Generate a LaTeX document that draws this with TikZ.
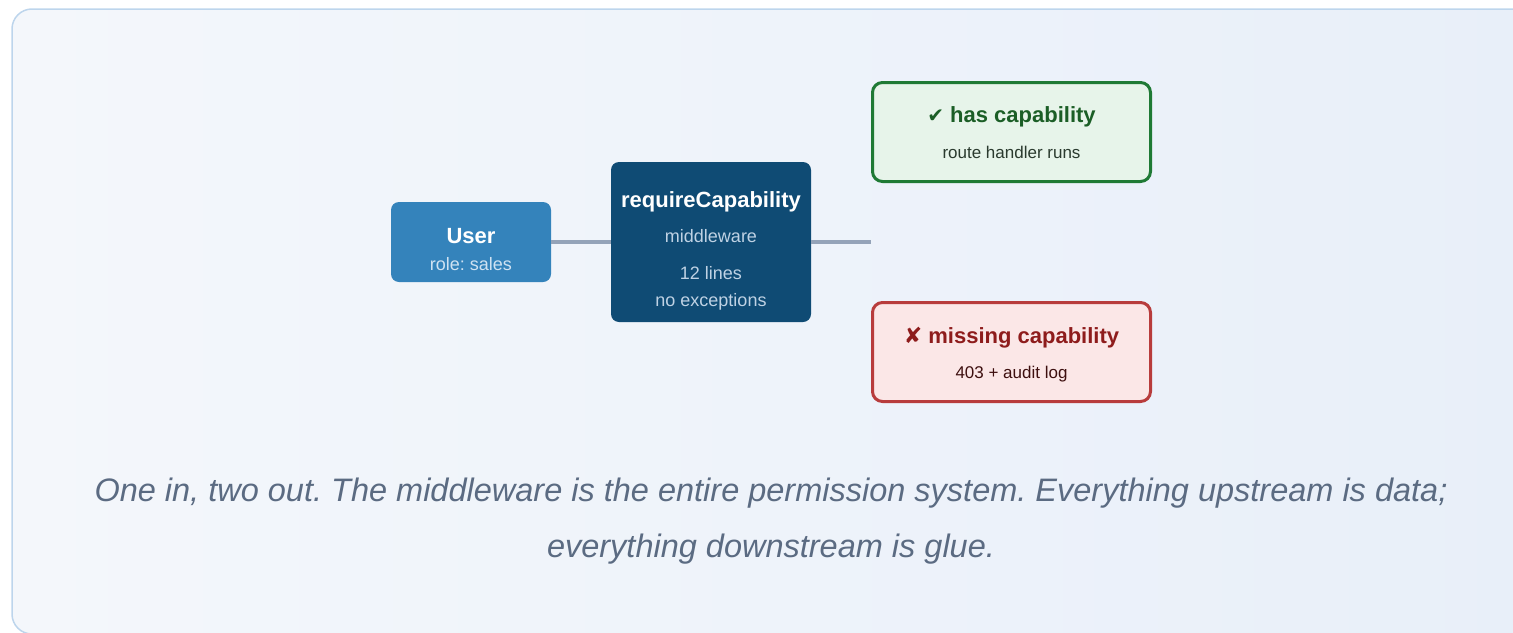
\documentclass[tikz,border=0pt]{standalone}
\usepackage{fontspec}
\setmainfont{Liberation Sans}
\newfontfamily\symfont{DejaVu Sans}
\frenchspacing
\definecolor{panelA}{HTML}{F4F7FB}
\definecolor{panelB}{HTML}{E8EFF9}
\definecolor{panelline}{HTML}{BDD5EC}
\definecolor{userfill}{HTML}{3483BB}
\definecolor{usersub}{HTML}{CFE2F2}
\definecolor{reqfill}{HTML}{0F4B74}
\definecolor{reqsub}{HTML}{BFD2E4}
\definecolor{wire}{HTML}{94A3B8}
\definecolor{okline}{HTML}{1F7A35}
\definecolor{okfill}{HTML}{E7F4EA}
\definecolor{oktitle}{HTML}{1B5E26}
\definecolor{oksub}{HTML}{2A3A2E}
\definecolor{noline}{HTML}{B83C3C}
\definecolor{nofill}{HTML}{FBE7E7}
\definecolor{notitle}{HTML}{8E1C1C}
\definecolor{nosub}{HTML}{3D0F0F}
\definecolor{captioncol}{HTML}{5B6B82}
\tikzset{
  boxbase/.style={rectangle, rounded corners=8pt, inner sep=0pt, outer sep=0pt, anchor=north west},
  userbox/.style={boxbase, fill=userfill},
  reqbox/.style={boxbase, fill=reqfill},
  okbox/.style={boxbase, rounded corners=10pt, draw=okline, line width=3pt, fill=okfill},
  nobox/.style={boxbase, rounded corners=10pt, draw=noline, line width=3pt, fill=nofill},
  titletext/.style={anchor=base, inner sep=0pt, font=\fontsize{22}{26}\selectfont\bfseries},
  subtext/.style={anchor=base, inner sep=0pt, font=\fontsize{18}{22}\selectfont},
  smalltext/.style={anchor=base, inner sep=0pt, font=\fontsize{17}{21}\selectfont},
  captiontext/.style={anchor=base, inner sep=0pt, text=captioncol, font=\fontsize{32.5}{38}\selectfont\itshape},
  wireline/.style={draw=wire, line width=4pt}
}
\begin{document}
\begin{tikzpicture}[x=1pt,y=-1pt]
\useasboundingbox (0,0) rectangle (1513,632);
\shade[shading=axis, shading angle=60, left color=panelA, right color=panelB, draw=panelline, line width=1.5pt, rounded corners=20pt]
  (12,9) rectangle (1540,634);

% boxes
\node[userbox, minimum width=160pt, minimum height=80pt] (user) at (391,202) {};
\node[reqbox, minimum width=200pt, minimum height=160pt] (req) at (611,162) {};
\node[okbox, minimum width=278pt, minimum height=99pt] (ok) at (872.5,82.5) {};
\node[nobox, minimum width=278pt, minimum height=99pt] (no) at (872.5,302.5) {};
\coordinate (split) at (871,242);

% connectors
\draw[wireline] (user.east |- 0,242) -- (req.west |- 0,242);
\draw[wireline] (req.east |- 0,242) -- (split);

% texts
\node[titletext, text=white] (usert) at (471,243) {User};
\node[subtext, text=usersub] (users) at (471,270) {role: sales};

\node[titletext, text=white] (reqt) at (711,207) {requireCapability};
\node[subtext, text=reqsub] (reqs1) at (711,242) {middleware};
\node[subtext, text=reqsub] (reqs2) at (711,279) {12 lines};
\node[subtext, text=reqsub] (reqs3) at (711,306) {no exceptions};

\node[titletext, text=oktitle] (okt) at (1011.5,122) {{\symfont\fontsize{20}{22}\selectfont ✔} has capability};
\node[smalltext, text=oksub] (oks) at (1011.5,158) {route handler runs};

\node[titletext, text=notitle] (not) at (1011.5,343) {{\symfont\fontsize{22}{24}\selectfont ✘} missing capability};
\node[smalltext, text=nosub] (nos) at (1011.5,378) {403 + audit log};

\node[captiontext] (cap1) at (771,501) {One in, two out. The middleware is the entire permission system. Everything upstream is data;};
\node[captiontext] (cap2) at (771,557) {everything downstream is glue.};
\end{tikzpicture}
\end{document}
